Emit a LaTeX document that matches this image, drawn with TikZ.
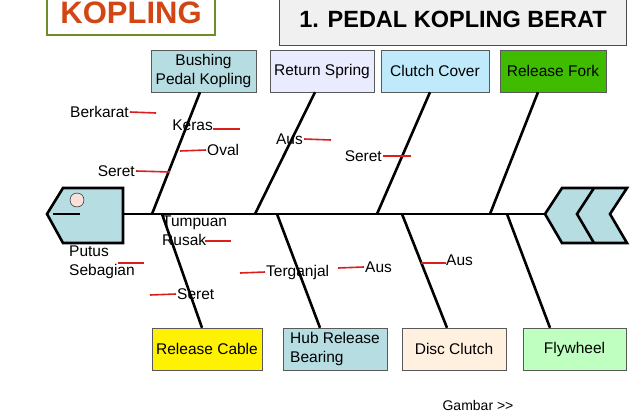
\documentclass[tikz,border=0pt]{standalone}
\usepackage{fontspec}
\setmainfont{Liberation Sans}
\usetikzlibrary{positioning}

\definecolor{fishblue}{RGB}{182,221,226}
\definecolor{tickred}{RGB}{220,30,30}
\definecolor{koplingred}{RGB}{210,70,20}
\definecolor{koplinggreen}{RGB}{110,140,40}

\begin{document}
\begin{tikzpicture}[x=1pt, y=-1pt, font=\fontsize{15.5}{19}\selectfont]

% Set the overall frame of the picture
\useasboundingbox (0,0) rectangle (640,420);
\clip (0,0) rectangle (640,420);

% Define styles for boxes, bones and ticks
\tikzstyle{cause} = [draw=gray!70!black, minimum height=42pt, inner sep=1pt, align=left]
\tikzstyle{bone} = [line width=2.6pt]
\tikzstyle{tick} = [draw=tickred, line width=1.6pt]
\tikzstyle{lbl} = [inner sep=1pt, align=left]

% Title boxes
\node[draw=koplinggreen, line width=1.5pt, minimum width=168pt, minimum height=44pt,
      font=\fontsize{31}{34}\bfseries\selectfont, text=koplingred] (kop) at (131,13) {KOPLING};
\node[draw=black!70, fill=gray!12, minimum width=347pt, minimum height=52pt,
      font=\fontsize{23.5}{26}\bfseries\selectfont] (judul) at (453,19) {1. PEDAL KOPLING BERAT};

% Head and tail of the fish
\draw[bone, fill=fishblue] (47,214) -- (63,188) -- (123,188) -- (123,243) -- (63,243) -- cycle;
\node[circle, draw=black, fill=pink!80!brown!40, minimum size=14pt, inner sep=0pt] (mata) at (77,200) {};
\draw[bone] (53,214) -- (80,214);
\draw[bone, fill=fishblue] (545,214) -- (562,188) -- (627,188) -- (610,214) -- (627,243) -- (562,243) -- cycle;
\draw[bone] (594,188) -- (577,214) -- (594,243);

% Spine
\coordinate (kepala) at (123,214);
\coordinate (ekor) at (545,214);
\draw[bone] (kepala) -- (ekor);

% Top causes
\node[cause, fill=fishblue, minimum width=105pt, align=center] (bushing) at (203.5,71) {Bushing\\Pedal Kopling};
\node[cause, fill=blue!8, minimum width=104pt] (spring) at (322,71) {Return Spring};
\node[cause, fill=cyan!25, minimum width=108pt] (cover) at (435,71) {Clutch Cover};
\node[cause, fill=green!65!black!75!yellow, minimum width=106pt] (fork) at (553,71) {Release Fork};

% Bottom causes
\node[cause, fill=yellow, minimum width=110pt] (cable) at (207,349) {Release Cable};
\node[cause, fill=fishblue, minimum width=104pt] (hub) at (335,349) {Hub Release\\Bearing};
\node[cause, fill=orange!12, minimum width=104pt] (disc) at (454,349) {Disc Clutch};
\node[cause, fill=green!25, minimum width=103pt] (fly) at (574.5,349) {Flywheel};

% Bones
\coordinate (t1) at (152,214); \coordinate (t2) at (255,214);
\coordinate (t3) at (377,214); \coordinate (t4) at (490,214);
\coordinate (b1) at (162,214); \coordinate (b2) at (277,214);
\coordinate (b3) at (402,214); \coordinate (b4) at (507,214);
\draw[bone] (bushing.south -| 200,0) -- (t1);
\draw[bone] (spring.south -| 315,0) -- (t2);
\draw[bone] (cover.south -| 430,0) -- (t3);
\draw[bone] (fork.south -| 538,0) -- (t4);
\draw[bone] (b1) -- (cable.north -| 202,0);
\draw[bone] (b2) -- (hub.north -| 320,0);
\draw[bone] (b3) -- (disc.north -| 447,0);
\draw[bone] (b4) -- (fly.north -| 550,0);

% Sub causes
\node[lbl, anchor=east] (berkarat) at (130,112) {Berkarat};
\draw[tick] (berkarat.east) -- (156,113);
\node[lbl, anchor=west] (oval) at (206,150) {Oval};
\draw[tick] (180,151) -- (oval.west);
\node[lbl, anchor=east] (seret1) at (136,171) {Seret};
\draw[tick] (seret1.east) -- (170,172);
\node[lbl, anchor=east] (keras) at (214,125) {Keras};
\draw[tick] (213,129) -- (240,129);
\node[lbl, anchor=east] (aus1) at (304,139) {Aus};
\draw[tick] (aus1.east) -- (331,140);
\node[lbl, anchor=east] (seret2) at (383,156) {Seret};
\draw[tick] (seret2.east) -- (411,156);

\node[lbl, anchor=north west] (putus) at (68,245) {Putus\\Sebagian};
\draw[tick] (118,263) -- (144,263);
\node[lbl, anchor=west] (seret3) at (176,294) {Seret};
\draw[tick] (150,295) -- (seret3.west);
\node[lbl, anchor=north west] (tumpuan) at (161,215) {Tumpuan\\Rusak};
\draw[tick] (205,241) -- (231,241);
\node[lbl, anchor=west] (terganjal) at (265,272) {Terganjal};
\draw[tick] (240,273) -- (terganjal.west);
\node[lbl, anchor=west] (aus2) at (364,267) {Aus};
\draw[tick] (338,268) -- (aus2.west);
\node[lbl, anchor=west] (aus3) at (445,260) {Aus};
\draw[tick] (421,263) -- (446,263);

\node[font=\fontsize{14}{16}\selectfont] (gambar) at (478,405) {Gambar {>}{>}};
\end{tikzpicture}
\end{document}
